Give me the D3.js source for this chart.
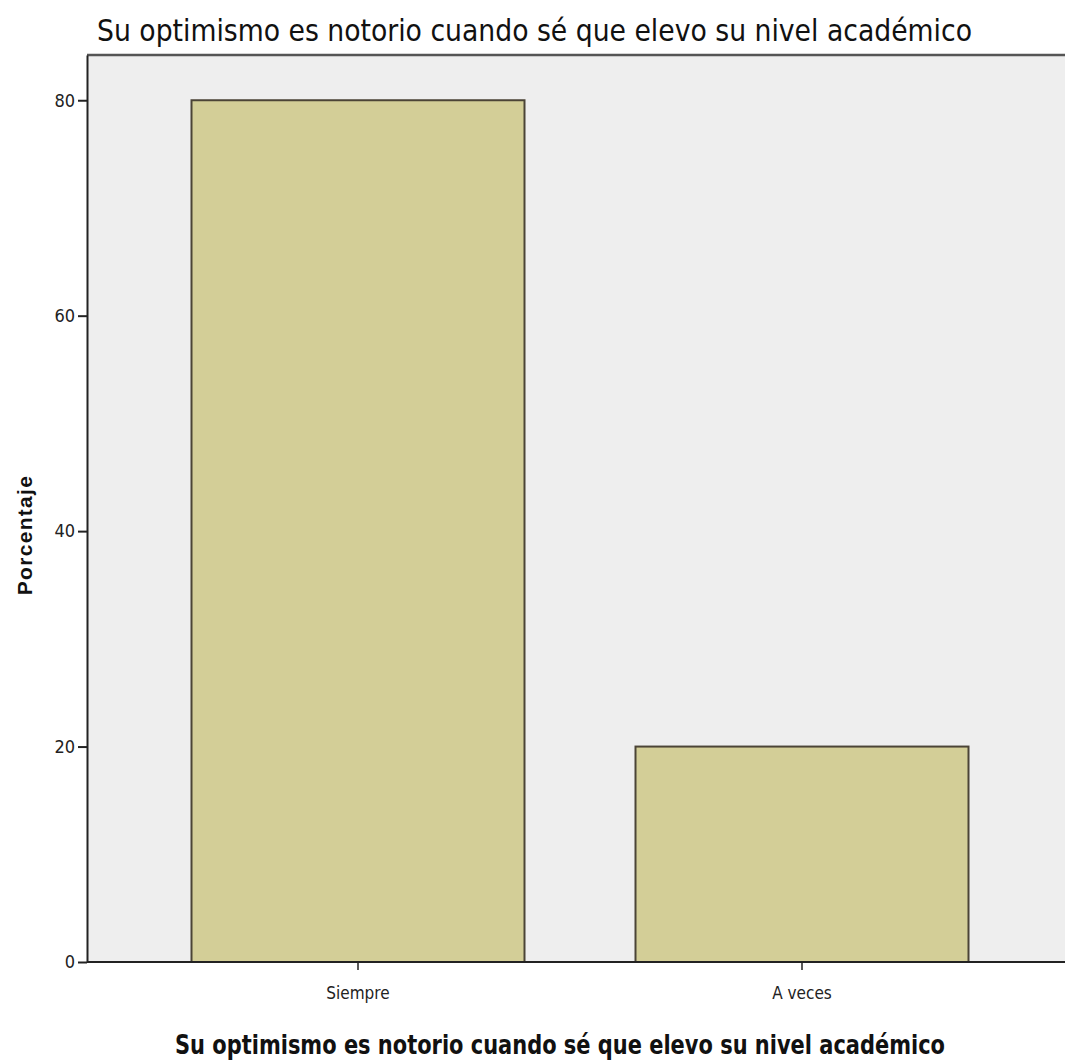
<!DOCTYPE html>
<html><head><meta charset="utf-8">
<script src="https://cdn.jsdelivr.net/npm/d3@7"></script>
<style>body{margin:0;background:#fff}</style>
</head><body>
<svg id="c" width="1065" height="1064"></svg>
<script>
const categories = ["Siempre", "A veces"];
const values = [80, 20];
const yTicks = [0, 20, 40, 60, 80];
const titleText = "Su optimismo es notorio cuando sé que elevo su nivel académico";
const xTitle = "Su optimismo es notorio cuando sé que elevo su nivel académico";
const yTitle = "Porcentaje";

(function(){
const svg = d3.select("#c");
const pL = 87, pR = 1066, pT = 55, pB = 962;
const narrow = "'Liberation Sans Narrow', 'DejaVu Sans Condensed', Arial, sans-serif";

const x = d3.scaleBand().domain(categories).range([136, 1024]).paddingInner(0.25).paddingOuter(0.125);
const y = d3.scaleLinear().domain([0, 84.2]).range([pB, pT]);

svg.append("rect").attr("x", pL).attr("y", pT).attr("width", pR - pL).attr("height", pB - pT).attr("fill", "#eeeeee");

svg.selectAll("rect.bar").data(values).join("rect").attr("class", "bar")
  .attr("x", (d, i) => x(categories[i]))
  .attr("y", d => y(d))
  .attr("width", x.bandwidth())
  .attr("height", d => pB - y(d))
  .attr("fill", "#d3ce97").attr("stroke", "#4b4436").attr("stroke-width", 2);

svg.append("line").attr("x1", pL).attr("x2", pR).attr("y1", pT).attr("y2", pT).attr("stroke", "#555").attr("stroke-width", 2.5);

const ya = svg.append("g").attr("transform", `translate(${pL},0)`)
  .call(d3.axisLeft(y).tickValues(yTicks).tickSize(9).tickSizeOuter(0));
ya.select(".domain").attr("stroke", "#222").attr("stroke-width", 2);
ya.selectAll(".tick line").attr("stroke", "#222").attr("stroke-width", 2);
ya.selectAll("text").attr("font-family", narrow).attr("font-size", 18).attr("fill", "#222").attr("x", -12);

const xa = svg.append("g").attr("transform", `translate(0,${pB})`)
  .call(d3.axisBottom(x).tickSize(8).tickSizeOuter(0));
xa.select(".domain").attr("d", `M${pL},0H${pR}`).attr("stroke", "#222").attr("stroke-width", 2);
xa.selectAll(".tick line").attr("stroke", "#222").attr("stroke-width", 1.5);
xa.selectAll("text").attr("font-family", narrow).attr("font-size", 17).attr("fill", "#222").attr("y", 37).attr("dy", 0);

svg.append("text").attr("x", 97).attr("y", 41).text(titleText)
  .attr("font-family", narrow).attr("font-size", 30).attr("fill", "#111")
  .attr("textLength", 875).attr("lengthAdjust", "spacingAndGlyphs");

svg.append("text").attr("x", 560).attr("y", 1054).attr("text-anchor", "middle").text(xTitle)
  .attr("font-family", "'DejaVu Sans Condensed', 'DejaVu Sans', sans-serif").attr("font-weight", "bold")
  .attr("font-size", 26).attr("fill", "#111")
  .attr("textLength", 770).attr("lengthAdjust", "spacingAndGlyphs");

svg.append("text").attr("transform", "translate(32,535) rotate(-90)").attr("text-anchor", "middle").text(yTitle)
  .attr("font-family", "'Liberation Sans', Arial, sans-serif").attr("font-weight", "bold")
  .attr("font-size", 21).attr("letter-spacing", 1.3).attr("fill", "#111");
})();
</script>
</body></html>
